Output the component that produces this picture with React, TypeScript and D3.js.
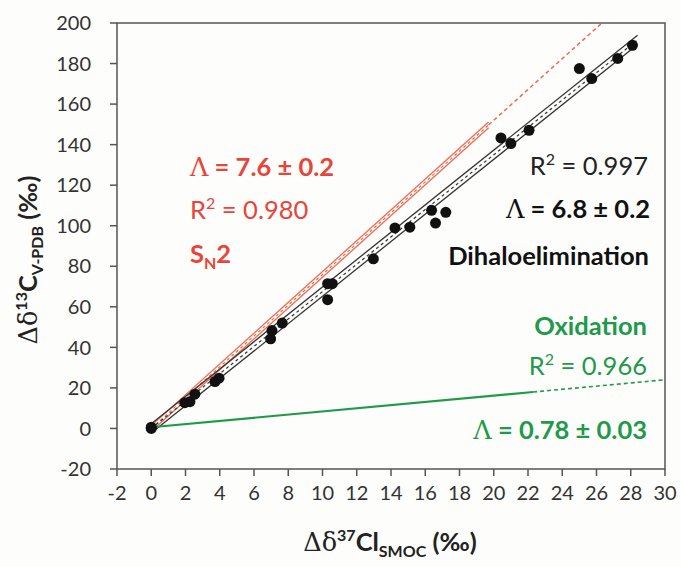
import React from 'react';
import * as d3 from 'd3';

// Measured points: Δδ37Cl (x) vs Δδ13C (y)
const clShift = [0, 0, 1.96, 2.26, 2.55, 3.72, 3.96, 6.97, 7.05, 7.65, 10.3, 10.57, 10.3, 12.97, 14.23, 15.1, 16.37, 16.6, 17.2, 20.42, 21.0, 22.06, 25.0, 25.72, 27.24, 28.1];
const cShift = [0, 0.6, 12.7, 13.2, 16.9, 23.1, 24.8, 44.2, 48.3, 52.0, 71.4, 71.4, 63.5, 83.7, 98.9, 99.3, 107.6, 101.3, 106.6, 143.3, 140.5, 147.1, 177.5, 172.6, 182.5, 189.0];

// Regression lines: [slope, intercept, band half-width, solid end x, dashed end x]
const dihaloFit = [6.75, 0, 2.3, 28.4, 28.4];
const sn2Fit = [7.6, 0, 1.4, 19.7, 26.3];
const oxFit = [0.78, 0.6, 0, 22.3, 30];

const xTicks = [-2, 0, 2, 4, 6, 8, 10, 12, 14, 16, 18, 20, 22, 24, 26, 28, 30];
const yTicks = [-20, 0, 20, 40, 60, 80, 100, 120, 140, 160, 180, 200];

const W = 681;
const H = 567;
const RED = '#e8443a';
const RED_LINE = '#ee6a52';
const GREEN = '#1e9a4a';
const AXIS = '#555';
const FONT = 'Lato, "Open Sans", sans-serif';
const SERIF = "'DejaVu Serif', serif";
const FS = 25.5;
const SUB = 16;

export default function App() {
  const x = d3.scaleLinear().domain([-2, 30]).range([117, 665]);
  const y = d3.scaleLinear().domain([-20, 200]).range([469, 23]);
  const line = d3
    .line<[number, number]>()
    .x((d) => x(d[0]))
    .y((d) => y(d[1]));

  const seg = (m: number, b: number, x0: number, x1: number) =>
    line([
      [x0, m * x0 + b],
      [x1, m * x1 + b],
    ]) as string;

  const band = (fit: number[], color: string, w: number) => {
    const [m, b, hw, xe] = fit;
    return (
      <g>
        <path d={seg(m, b + hw, 0, xe)} stroke={color} strokeWidth={w} fill="none" />
        <path d={seg(m, b - hw, 0, xe)} stroke={color} strokeWidth={w} fill="none" />
        <path d={seg(m, b, 0, xe)} stroke={color} strokeWidth={1.2} strokeDasharray="3,3" fill="none" />
      </g>
    );
  };

  return (
    <svg width={W} height={H} style={{ position: 'absolute', left: 0, top: 0, background: '#fdfdfb' }}>
      {/* frame */}
      <rect x={x(-2)} y={y(200)} width={x(30) - x(-2)} height={y(-20) - y(200)} fill="none" stroke={AXIS} strokeWidth={1.5} />
      {/* y ticks */}
      {yTicks.map((t) => (
        <g key={'y' + t}>
          <line x1={x(-2) - 7} x2={x(-2)} y1={y(t)} y2={y(t)} stroke={AXIS} strokeWidth={1.5} />
          <text x={x(-2) - 26} y={y(t)} dy="0.36em" textAnchor="end" fontFamily={FONT} fontSize={20} fill="#333">
            {t}
          </text>
        </g>
      ))}
      {/* x ticks */}
      {xTicks.map((t) => (
        <g key={'x' + t}>
          <line x1={x(t)} x2={x(t)} y1={y(-20)} y2={y(-20) + 7} stroke={AXIS} strokeWidth={1.5} />
          <text x={x(t)} y={500} textAnchor="middle" fontFamily={FONT} fontSize={20} fill="#333">
            {t}
          </text>
        </g>
      ))}

      {/* SN2 band + extension */}
      {band(sn2Fit, RED_LINE, 1.3)}
      <path d={seg(sn2Fit[0], sn2Fit[1], sn2Fit[3], sn2Fit[4])} stroke={RED_LINE} strokeWidth={1.5} strokeDasharray="4,3" fill="none" />

      {/* Dihaloelimination band */}
      {band(dihaloFit, '#333', 1.3)}

      {/* Oxidation line */}
      <path d={seg(oxFit[0], oxFit[1], 0, oxFit[3])} stroke={GREEN} strokeWidth={2.2} fill="none" />
      <path d={seg(oxFit[0], oxFit[1], oxFit[3], oxFit[4])} stroke={GREEN} strokeWidth={1.6} strokeDasharray="4,3" fill="none" />

      {/* points */}
      {clShift.map((v, i) => (
        <circle key={i} cx={x(v)} cy={y(cShift[i])} r={5.5} fill="#111" />
      ))}

      {/* SN2 annotations */}
      <text x={190} y={176} fontFamily={FONT} fontSize={FS} fill={RED} fontWeight="bold">
        <tspan fontFamily={SERIF} fontWeight="normal">Λ</tspan> = 7.6 ± 0.2
      </text>
      <text x={190} y={219} fontFamily={FONT} fontSize={FS} fill={RED}>
        R<tspan fontSize={SUB} dy={-10}>2</tspan>
        <tspan dy={10}> = 0.980</tspan>
      </text>
      <text x={190} y={263} fontFamily={FONT} fontSize={FS} fill={RED} fontWeight="bold">
        S<tspan fontSize={SUB} dy={6}>N</tspan>
        <tspan dy={-6}>2</tspan>
      </text>

      {/* Dihaloelimination annotations */}
      <text x={648} y={175} textAnchor="end" fontFamily={FONT} fontSize={FS} fill="#222">
        R<tspan fontSize={SUB} dy={-10}>2</tspan>
        <tspan dy={10}> = 0.997</tspan>
      </text>
      <text x={650} y={218} textAnchor="end" fontFamily={FONT} fontSize={FS} fill="#111" fontWeight="bold">
        <tspan fontFamily={SERIF} fontWeight="normal">Λ</tspan> = 6.8 ± 0.2
      </text>
      <text x={649} y={265} textAnchor="end" fontFamily={FONT} fontSize={FS} fill="#111" fontWeight="bold">
        Dihaloelimination
      </text>

      {/* Oxidation annotations */}
      <text x={647} y={335} textAnchor="end" fontFamily={FONT} fontSize={FS} fill={GREEN} fontWeight="bold">
        Oxidation
      </text>
      <text x={647} y={375} textAnchor="end" fontFamily={FONT} fontSize={FS} fill={GREEN}>
        R<tspan fontSize={SUB} dy={-10}>2</tspan>
        <tspan dy={10}> = 0.966</tspan>
      </text>
      <text x={647} y={439} textAnchor="end" fontFamily={FONT} fontSize={FS} fill={GREEN} fontWeight="bold">
        <tspan fontFamily={SERIF} fontWeight="normal">Λ</tspan> = 0.78 ± 0.03
      </text>

      {/* axis titles */}
      <text x={390} y={551} textAnchor="middle" fontFamily={FONT} fontSize={FS} fill="#222" fontWeight="bold">
        <tspan fontFamily={SERIF} fontWeight="normal">Δδ</tspan>
        <tspan fontSize={SUB} dy={-10}>37</tspan>
        <tspan dy={10}>Cl</tspan>
        <tspan fontSize={SUB} dy={6}>SMOC</tspan>
        <tspan dy={-6}> (‰)</tspan>
      </text>
      <text transform="translate(37,260) rotate(-90)" textAnchor="middle" fontFamily={FONT} fontSize={FS} fill="#222" fontWeight="bold">
        <tspan fontFamily={SERIF} fontWeight="normal">Δδ</tspan>
        <tspan fontSize={SUB} dy={-10}>13</tspan>
        <tspan dy={10}>C</tspan>
        <tspan fontSize={SUB} dy={6}>V-PDB</tspan>
        <tspan dy={-6}> (‰)</tspan>
      </text>
    </svg>
  );
}
